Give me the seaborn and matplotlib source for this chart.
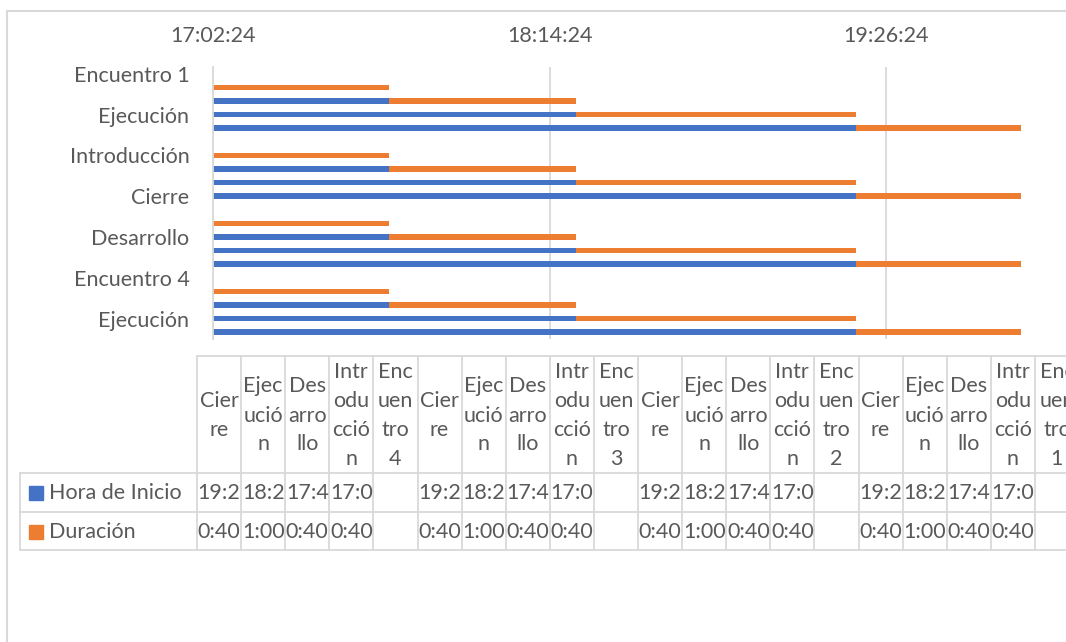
import matplotlib
matplotlib.use("Agg")
import matplotlib.pyplot as plt
import pandas as pd
import seaborn as sns
from matplotlib.lines import Line2D
from matplotlib.patches import Rectangle

# data, in the order of the data table (bottom bar first)
categories = ["Cierre", "Ejecución", "Desarrollo", "Introducción", "Encuentro 4",
              "Cierre", "Ejecución", "Desarrollo", "Introducción", "Encuentro 3",
              "Cierre", "Ejecución", "Desarrollo", "Introducción", "Encuentro 2",
              "Cierre", "Ejecución", "Desarrollo", "Introducción", "Encuentro 1"]
start_times = ["19:20", "18:20", "17:40", "17:00", None,
               "19:20", "18:20", "17:40", "17:00", None,
               "19:20", "18:20", "17:40", "17:00", None,
               "19:20", "18:20", "17:40", "17:00", None]
durations = ["0:40", "1:00", "0:40", "0:40", None,
             "0:40", "1:00", "0:40", "0:40", None,
             "0:40", "1:00", "0:40", "0:40", None,
             "0:40", "1:00", "0:40", "0:40", None]
series_names = ["Hora de Inicio", "Duración"]
x_ticks = [0.71, 0.76, 0.81]
x_range = [0.71, 0.83]

BLUE = "#4472C4"
ORANGE = "#ED7D31"
GRID = "#d9d9d9"
TEXT = "#595959"


def to_days(s):
    if s is None:
        return float("nan")
    h, m = s.split(":")
    return (int(h) * 60 + int(m)) / 1440


def day_label(t):
    sec = int(round(t * 86400))
    return "%d:%02d:%02d" % (sec // 3600, sec % 3600 // 60, sec % 60)


def wrap(name):
    pieces = {"Cierre": ["Cier", "re"], "Ejecución": ["Ejec", "ució", "n"],
              "Desarrollo": ["Des", "arro", "llo"],
              "Introducción": ["Intr", "odu", "cció", "n"]}
    if name in pieces:
        return pieces[name]
    word, num = name.split(" ")
    return [word[:3], word[3:6], word[6:], num]


df = pd.DataFrame({"pos": range(len(categories)), "label": categories,
                   "start": [to_days(s) for s in start_times],
                   "dur": [to_days(d) for d in durations]})
df["end"] = df["start"] + df["dur"]

sns.set_style("white")
plt.rcParams["font.family"] = ["Lato", "DejaVu Sans"]
plt.rcParams["font.size"] = 15.5
plt.rcParams["text.color"] = TEXT

W, H = 1066, 642
fig = plt.figure(figsize=(W / 100, H / 100), dpi=100)

# pixel-space layer for the frame and the data table
tab = fig.add_axes([0, 0, 1, 1])
tab.set_xlim(0, W)
tab.set_ylim(H, 0)
tab.axis("off")

ax = fig.add_axes([213 / W, 1 - 339 / H, (1021 - 213) / W, (339 - 67) / H])
ax.set_facecolor("none")

order = list(range(len(categories) - 1, -1, -1))
sns.barplot(data=df, x="end", y="pos", orient="h", order=order, color=ORANGE,
            saturation=1, width=0.4, linewidth=0, ax=ax)
sns.barplot(data=df, x="start", y="pos", orient="h", order=order, color=BLUE,
            saturation=1, width=0.4, linewidth=0, ax=ax)

ax.set_xlim(x_range)
ax.set_ylim(len(categories) - 0.5, -0.5)
ax.xaxis.tick_top()
ax.set_xticks(x_ticks)
ax.set_xticklabels([day_label(t) for t in x_ticks])
shown = [p for p in range(1, len(categories), 3)]
ax.set_yticks([order.index(p) for p in shown])
ax.set_yticklabels([categories[p] for p in shown])
ax.tick_params(axis="x", length=0, pad=15, colors=TEXT, labelsize=15.5)
ax.tick_params(axis="y", length=0, pad=17, colors=TEXT, labelsize=15.5)
ax.grid(axis="x", color=GRID, lw=1.3)
ax.set_axisbelow(True)
for side in ["top", "right", "bottom"]:
    ax.spines[side].set_visible(False)
ax.spines["left"].set_color(GRID)
ax.spines["left"].set_linewidth(1.3)
ax.set_xlabel("")
ax.set_ylabel("")

# chart frame
tab.add_line(Line2D([7, 7], [11, H], color=GRID, lw=1.5))
tab.add_line(Line2D([7, W], [11, 11], color=GRID, lw=1.5))

# data table
x0, col_w = 197, 44.1
top, head_bot, row1_bot, row2_bot = 356, 473, 512, 550
n = len(categories)
x_end = x0 + n * col_w
lw = 1.3
tab.add_line(Line2D([x0, x_end], [top, top], color=GRID, lw=lw))
for yy in [head_bot, row1_bot, row2_bot]:
    tab.add_line(Line2D([20, x_end], [yy, yy], color=GRID, lw=lw))
tab.add_line(Line2D([20, 20], [head_bot, row2_bot], color=GRID, lw=lw))
for i in range(n + 1):
    xx = x0 + i * col_w
    tab.add_line(Line2D([xx, xx], [top, row2_bot], color=GRID, lw=lw))

line_h = 29
mid_head = (top + head_bot) / 2 + 1
row_mid = [(head_bot + row1_bot) / 2 + 0.5, (row1_bot + row2_bot) / 2 + 0.5]
for i, name in enumerate(categories):
    cx = x0 + (i + 0.5) * col_w
    lines = wrap(name)
    y_first = mid_head - (len(lines) - 1) * line_h / 2
    for k, txt in enumerate(lines):
        tab.text(cx, y_first + k * line_h, txt, ha="center", va="center",
                 color=TEXT, fontsize=15.5)
    if start_times[i] is not None:
        tab.text(cx, row_mid[0], start_times[i][:4], ha="center", va="center",
                 color=TEXT, fontsize=15.5)
    if durations[i] is not None:
        tab.text(cx, row_mid[1], durations[i][:4], ha="center", va="center",
                 color=TEXT, fontsize=15.5)

for name, color, ym in zip(series_names, [BLUE, ORANGE], row_mid):
    tab.add_patch(Rectangle((29, ym - 7), 14, 14, color=color))
    tab.text(49, ym, name, ha="left", va="center", color=TEXT, fontsize=15.5)

fig.savefig("out.png", dpi=100)
